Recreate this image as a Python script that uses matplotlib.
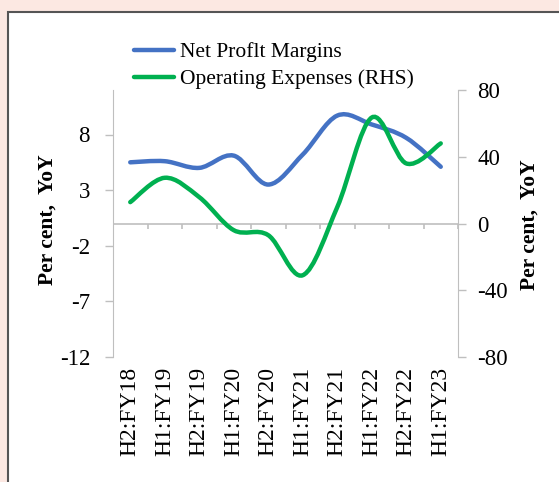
import numpy as np
import matplotlib.pyplot as plt
from matplotlib.path import Path
from matplotlib.patches import PathPatch, Rectangle
from matplotlib.lines import Line2D

plt.rcParams['font.family'] = ['Liberation Serif', 'DejaVu Serif']
plt.rcParams['axes.unicode_minus'] = False

# Half-year periods
periods = ["H2:FY18", "H1:FY19", "H2:FY19", "H1:FY20", "H2:FY20",
           "H1:FY21", "H2:FY21", "H1:FY22", "H2:FY22", "H1:FY23"]

# Net profit margins (left axis, per cent)
npm = [5.5, 5.6, 5.0, 6.1, 3.5, 6.2, 9.7, 8.9, 7.7, 5.1]

# Operating expenses growth (right axis, per cent YoY)
opex = [12.8, 27.4, 15.8, -4.0, -7.0, -31.0, 9.8, 63.5, 36.0, 48.0]


def smooth_path(xs, ys):
    # Excel-style smoothed line: cubic Bezier through each point
    p = np.column_stack([xs, ys]).astype(float)
    ext = np.vstack([p[0], p, p[-1]])
    verts = [p[0]]
    codes = [Path.MOVETO]
    for i in range(len(p) - 1):
        p0, p1, p2, p3 = ext[i], ext[i + 1], ext[i + 2], ext[i + 3]
        c1 = p1 + (p2 - p0) / 6
        c2 = p2 - (p3 - p1) / 6
        verts += [c1, c2, p2]
        codes += [Path.CURVE4] * 3
    return Path(verts, codes)


fig = plt.figure(figsize=(5.59, 4.82), dpi=100, facecolor='#FCE8E2')
fig.patches.append(Rectangle((8 / 559, -0.1), 1.2, (482 - 12) / 482 + 0.1,
                             transform=fig.transFigure, facecolor='white',
                             edgecolor='#555555', linewidth=1.5, zorder=-5))

ax = fig.add_axes([113 / 559, 125 / 482, 345 / 559, 267 / 482])
ax.set_facecolor('none')
ax2 = ax.twinx()

x = np.arange(len(periods))
blue = '#4472C4'
green = '#00B050'
grey = '#BFBFBF'

# category axis crossing at zero, ticks between categories
ax.axhline(0, color=grey, linewidth=1.2, zorder=1)
ax.vlines(np.arange(-0.5, len(periods), 1.0), 0.5 - 5 / 267, 0.5,
          transform=ax.get_xaxis_transform(), color=grey, linewidth=1.2, zorder=1)

ax.add_patch(PathPatch(smooth_path(x, npm), facecolor='none', edgecolor=blue,
                       linewidth=3.2, capstyle='round', zorder=3))
ax2.add_patch(PathPatch(smooth_path(x, opex), facecolor='none', edgecolor=green,
                        linewidth=3.2, capstyle='round', zorder=3))

ax.set_xlim(-0.5, len(periods) - 0.5)
ax.set_ylim(-12, 12)
ax.set_yticks([-12, -7, -2, 3, 8])
ax2.set_ylim(-80, 80)
ax2.set_yticks([-80, -40, 0, 40, 80])

for a in (ax, ax2):
    for s in ('top', 'bottom'):
        a.spines[s].set_visible(False)
ax.spines['right'].set_visible(False)
ax2.spines['left'].set_visible(False)
ax.spines['left'].set_color(grey)
ax2.spines['right'].set_color(grey)

ax.tick_params(axis='y', colors=grey, labelcolor='black', labelsize=16.5,
               length=6, width=1, direction='out', pad=10.5)
ax2.tick_params(axis='y', colors=grey, labelcolor='black', labelsize=16.5,
                length=6, width=1, direction='out', pad=8)

ax.set_xticks(x)
ax.set_xticklabels(periods, rotation=90, fontsize=17)
ax.tick_params(axis='x', length=0, pad=7)

fig.text(48 / 559, 1 - 220 / 482, 'Per cent,  YoY', rotation=90, fontsize=15.5,
         fontweight='bold', ha='center', va='center')
fig.text(530 / 559, 1 - 225 / 482, 'Per cent,  YoY', rotation=90, fontsize=15.5,
         fontweight='bold', ha='center', va='center')

handles = [Line2D([], [], color=blue, linewidth=3.2, solid_capstyle='round'),
           Line2D([], [], color=green, linewidth=3.2, solid_capstyle='round')]
fig.legend(handles, ['Net Proflt Margins', 'Operating Expenses (RHS)'],
           loc='upper left', bbox_to_anchor=(134 / 559, 1 - 42 / 482),
           frameon=False, fontsize=15.5, handlelength=1.85, handletextpad=0.3,
           labelspacing=0.34, borderpad=0, borderaxespad=0)

fig.savefig('out.png', dpi=100, facecolor=fig.get_facecolor())
